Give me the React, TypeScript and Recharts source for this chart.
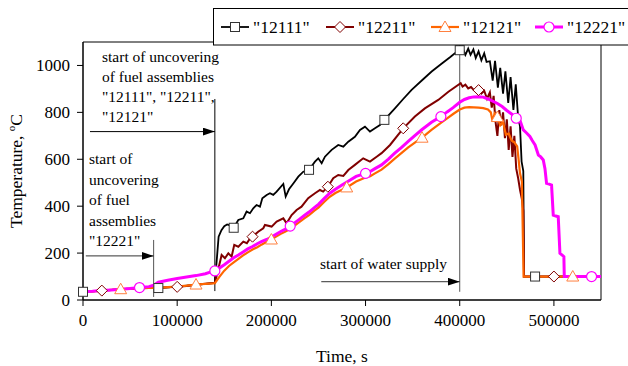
import React from "react";
import { LineChart, Line, XAxis, YAxis, ReferenceLine, ReferenceArea } from "recharts";

const FONT = '"Liberation Serif", "Times New Roman", serif';

const xTicks = [0, 100000, 200000, 300000, 400000, 500000];
const yTicks = [0, 200, 400, 600, 800, 1000];

// [time s, temperature C]
const fa12111 = [
  [0, 35], [10000, 37], [20000, 40], [30000, 43], [40000, 46], [50000, 48], [60000, 50], [70000, 51],
  [80000, 51], [90000, 54], [100000, 57], [110000, 61], [120000, 65], [130000, 69], [138000, 72],
  [140000, 74], [142000, 170], [144000, 270], [147000, 298], [150000, 315], [153000, 322], [156000, 318],
  [160000, 308], [164900, 341], [170200, 348], [173700, 377], [177300, 370], [180800, 391], [184300, 405],
  [187900, 398], [190400, 434], [195000, 448], [198500, 455], [202000, 448], [205600, 462], [212700, 495],
  [215200, 441], [218700, 472], [223300, 497], [228600, 526], [233900, 547], [240000, 555], [246300, 590],
  [249800, 604], [253400, 583], [256900, 611], [264000, 640], [271000, 661], [276400, 654], [281700, 675],
  [288700, 696], [294100, 725], [299400, 739], [304700, 718], [310000, 732], [315300, 746], [320000, 768],
  [331200, 817], [340000, 857], [348900, 896], [360000, 937], [370200, 974], [380000, 1005], [390000, 1036],
  [394900, 1052], [400000, 1065], [403000, 1075], [406000, 1045], [409000, 1072], [411500, 1045],
  [414500, 1068], [417000, 1032], [420000, 1060], [423000, 1022], [426000, 1052], [428500, 1015],
  [432000, 1018], [435000, 935], [437500, 1020], [440500, 905], [443000, 990], [446000, 880], [448500, 975],
  [451500, 840], [454000, 950], [457000, 810], [459500, 920], [462000, 780], [464000, 740], [465700, 590],
  [467500, 550], [468300, 100], [480000, 100], [500000, 100], [550000, 100],
];

const fa12211 = [
  [0, 35], [10000, 37], [20000, 40], [30000, 43], [40000, 46], [50000, 48], [60000, 50], [70000, 52],
  [80000, 52], [90000, 54], [100000, 56], [110000, 60], [120000, 65], [130000, 69], [138000, 72],
  [140000, 73], [143000, 120], [147200, 192], [150700, 178], [154300, 199], [157800, 185], [160600, 235],
  [164900, 227], [170200, 249], [174000, 242], [177300, 262], [180000, 270], [186000, 291], [191400, 306],
  [193200, 320], [200300, 313], [205600, 334], [212700, 348], [216200, 327], [221500, 362], [226800, 384],
  [232000, 398], [239100, 434], [246300, 455], [251600, 469], [255000, 462], [260000, 483], [265700, 519],
  [271000, 533], [276400, 529], [281700, 554], [288700, 576], [297500, 604], [304700, 590], [311800, 611],
  [317000, 626], [326000, 661], [340000, 732], [352400, 782], [363000, 817], [377200, 853], [388000, 888],
  [401000, 924], [403000, 910], [406000, 918], [409000, 902], [412000, 908], [415000, 895], [418000, 902],
  [420000, 895], [423000, 880], [426000, 892], [429000, 858], [432000, 885], [434000, 820], [436000, 870],
  [438000, 760], [440000, 700], [442000, 810], [444000, 745], [446000, 800], [448000, 690], [450000, 770],
  [452000, 640], [454000, 740], [456000, 610], [458000, 700], [460000, 560], [462000, 520], [464000, 470],
  [466000, 430], [467500, 380], [468300, 100], [500000, 100], [550000, 100],
];

const fa12121 = [
  [0, 35], [10000, 37], [20000, 40], [30000, 43], [40000, 46], [50000, 48], [60000, 50], [70000, 52],
  [80000, 52], [90000, 55], [100000, 57], [110000, 61], [120000, 66], [130000, 69], [138000, 71],
  [140000, 72], [145000, 100], [150000, 125], [155000, 145], [160000, 160], [165000, 175], [170000, 190],
  [175000, 203], [180000, 215], [185000, 225], [190000, 237], [195000, 248], [200000, 258], [205000, 270],
  [210000, 282], [215000, 292], [220000, 303], [225000, 318], [230000, 333], [235000, 348], [240000, 362],
  [246000, 382], [250000, 394], [256000, 418], [262000, 440], [268000, 456], [275000, 470], [280000, 480],
  [290000, 505], [300000, 522], [305000, 528], [310000, 540], [317000, 556], [324000, 578], [331000, 603],
  [338000, 626], [345000, 650], [352000, 670], [360000, 692], [370000, 725], [380000, 755], [387000, 775],
  [393000, 793], [400000, 812], [405000, 820], [410000, 822], [415000, 821], [420000, 820], [425000, 818],
  [430000, 812], [433000, 800], [435000, 760], [437000, 795], [440000, 780], [443000, 745], [446000, 760],
  [449000, 705], [452000, 710], [455000, 680], [458000, 672], [461000, 655], [462500, 600], [464000, 540],
  [466000, 505], [467800, 100], [520000, 100], [550000, 100],
];

const fa12221 = [
  [0, 35], [10000, 37], [20000, 40], [30000, 43], [40000, 46], [50000, 49], [60000, 53], [70000, 57],
  [75000, 63], [80000, 76], [90000, 84], [100000, 92], [110000, 98], [120000, 104], [130000, 112],
  [135000, 119], [140000, 124], [145000, 137], [150000, 150], [155000, 165], [160000, 180], [165000, 192],
  [170000, 205], [175000, 218], [180000, 228], [185000, 240], [190000, 250], [195000, 258], [200000, 268],
  [205000, 280], [210000, 292], [215000, 302], [220000, 315], [225000, 330], [230000, 345], [235000, 360],
  [240000, 375], [246000, 395], [250000, 408], [256000, 432], [262000, 455], [268000, 472], [275000, 490],
  [282000, 507], [290000, 527], [300000, 540], [305000, 548], [310000, 560], [317000, 576], [324000, 600],
  [331000, 626], [338000, 650], [345000, 675], [352000, 700], [360000, 727], [370000, 758], [380000, 782],
  [387000, 803], [393000, 820], [400000, 843], [405000, 855], [410000, 862], [415000, 866], [420000, 867],
  [425000, 865], [430000, 857], [435000, 848], [440000, 838], [445000, 825], [450000, 808], [455000, 793],
  [460000, 775], [464000, 765], [467500, 725], [471000, 712], [474500, 697], [477000, 680], [480000, 661],
  [483500, 618], [486000, 610], [488700, 597], [490500, 560], [492200, 497], [495000, 494], [497500, 490],
  [499300, 362], [502000, 358], [504600, 355], [506400, 199], [508500, 192], [510600, 185], [511000, 100],
  [540000, 100], [550000, 100],
];

const marks12111 = [0, 80000, 160000, 240000, 320000, 400000, 480000];
const marks12211 = [20000, 100000, 180000, 260000, 340000, 420000, 500000];
const marks12121 = [40000, 120000, 200000, 280000, 360000, 440000, 520000];
const marks12221 = [60000, 140000, 220000, 300000, 380000, 460000, 540000];

const toRows = (pts: number[][]) => pts.map(([t, v]) => ({ t, v }));

function Marker({ kind, cx, cy }: { kind: string; cx: number; cy: number }) {
  if (kind === "square")
    return <rect x={cx - 4.5} y={cy - 4.5} width={9} height={9} fill="#fff" stroke="#333" strokeWidth={1} />;
  if (kind === "diamond")
    return (
      <path d={`M${cx},${cy - 5.5}L${cx + 5.5},${cy}L${cx},${cy + 5.5}L${cx - 5.5},${cy}Z`} fill="#fff" stroke="#800000" strokeWidth={1} />
    );
  if (kind === "triangle")
    return (
      <path d={`M${cx},${cy - 6}L${cx + 6},${cy + 4.5}L${cx - 6},${cy + 4.5}Z`} fill="#fff" stroke="#ff8040" strokeWidth={1} />
    );
  return <circle cx={cx} cy={cy} r={5} fill="#fff" stroke="#ff00ff" strokeWidth={1.2} />;
}

const series = [
  { name: '"12111"', data: fa12111, marks: marks12111, color: "#000000", width: 1.8, kind: "square" },
  { name: '"12211"', data: fa12211, marks: marks12211, color: "#800000", width: 2, kind: "diamond" },
  { name: '"12121"', data: fa12121, marks: marks12121, color: "#ff6600", width: 2.2, kind: "triangle" },
  { name: '"12221"', data: fa12221, marks: marks12221, color: "#ff00ff", width: 3, kind: "circle" },
];

const note1 = ["start of uncovering", "of fuel assemblies", '"12111", "12211",', '"12121"'];
const note2 = ["start of", "uncovering", "of fuel", "assemblies", '"12221"'];

export default function App() {
  const tickStyle = { fontSize: 17, fill: "#000", fontFamily: FONT };
  return (
    <div style={{ position: "absolute", left: 0, top: 0, width: 628, height: 366, background: "#fff" }}>
      <LineChart width={628} height={366} margin={{ top: 42, right: 27, left: 0, bottom: 0 }}>
        <XAxis
          type="number"
          dataKey="t"
          domain={[0, 550000]}
          ticks={xTicks}
          interval={0}
          height={66}
          tickSize={6}
          tickMargin={8}
          tick={tickStyle}
          axisLine={{ stroke: "#000" }}
          tickLine={{ stroke: "#000" }}
        />
        <YAxis
          type="number"
          domain={[0, 1100]}
          ticks={yTicks}
          interval={0}
          width={83}
          tickSize={6}
          tickMargin={7}
          tick={tickStyle}
          axisLine={{ stroke: "#000" }}
          tickLine={{ stroke: "#000" }}
        />
        <ReferenceArea x1={0} x2={550000} y1={0} y2={1100} fill="none" stroke="#000" strokeWidth={1} ifOverflow="visible" />
        <ReferenceLine segment={[{ x: 140000, y: 38 }, { x: 140000, y: 857 }]} stroke="#000" strokeWidth={1} />
        <ReferenceLine segment={[{ x: 75000, y: 13 }, { x: 75000, y: 256 }]} stroke="#555" strokeWidth={1} />
        <ReferenceLine segment={[{ x: 400000, y: 35 }, { x: 400000, y: 1100 }]} stroke="#555" strokeWidth={1} />
        <ReferenceLine segment={[{ x: 7400, y: 718 }, { x: 140000, y: 718 }]} stroke="#000" strokeWidth={1} markerEnd="url(#arrowhead)" />
        <ReferenceLine segment={[{ x: 3000, y: 188 }, { x: 75000, y: 188 }]} stroke="#333" strokeWidth={1} markerEnd="url(#arrowhead)" />
        <ReferenceLine segment={[{ x: 253000, y: 78 }, { x: 400000, y: 78 }]} stroke="#333" strokeWidth={1} markerEnd="url(#arrowhead)" />
        {series.map((s) => (
          <Line
            key={s.name}
            data={toRows(s.data)}
            dataKey="v"
            type="linear"
            stroke={s.color}
            strokeWidth={s.width}
            isAnimationActive={false}
            activeDot={false}
            dot={(p: any) => (
              <g key={`${s.name}-${p.index}`}>
                {s.marks.includes(p.payload.t) ? <Marker kind={s.kind} cx={p.cx} cy={p.cy} /> : null}
              </g>
            )}
          />
        ))}
      </LineChart>
      <svg width={628} height={366} style={{ position: "absolute", left: 0, top: 0, pointerEvents: "none" }}>
        <defs>
          <marker id="arrowhead" viewBox="0 0 12 8" refX={12} refY={4} markerWidth={12} markerHeight={8} markerUnits="userSpaceOnUse" orient="auto">
            <path d="M0,0L12,4L0,8Z" fill="#000" />
          </marker>
        </defs>
        <g fontFamily={FONT} fontSize={15.5} fill="#000">
          {note1.map((l, i) => (
            <text key={l} x={102} y={62 + i * 20} textAnchor="start">{l}</text>
          ))}
          {note2.map((l, i) => (
            <text key={l} x={89} y={164 + i * 20.5} textAnchor="start">{l}</text>
          ))}
          <text x={320} y={269}>start of water supply</text>
        </g>
        <text x={342} y={362} textAnchor="middle" fontFamily={FONT} fontSize={17.5}>Time, s</text>
        <text transform="translate(22,171) rotate(-90)" textAnchor="middle" fontFamily={FONT} fontSize={17.5}>
          Temperature, <tspan dy={-7} fontSize={11}>o</tspan><tspan dy={7}>C</tspan>
        </text>
        <rect x={213.5} y={8.5} width={420} height={36.5} fill="#fff" stroke="#000" strokeWidth={1} />
        {series.map((s, i) => {
          const x0 = [221, 326, 431, 535][i];
          return (
            <g key={s.name}>
              <line x1={x0} x2={x0 + 28} y1={27} y2={27} stroke={s.color} strokeWidth={s.width} />
              <Marker kind={s.kind} cx={x0 + 14} cy={27} />
              <text x={x0 + 32} y={33} fontFamily={FONT} fontSize={17.5}>{s.name}</text>
            </g>
          );
        })}
      </svg>
    </div>
  );
}
